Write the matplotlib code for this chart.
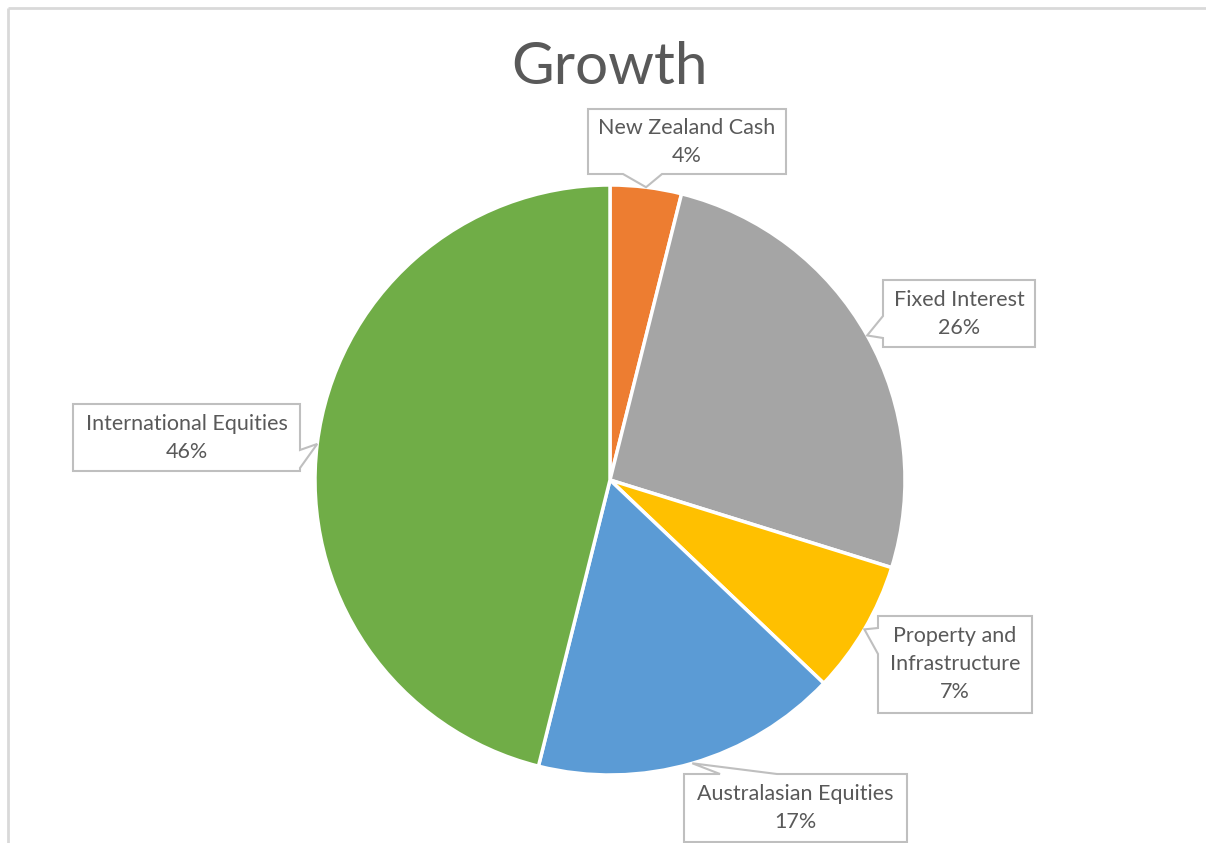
import numpy as np
import matplotlib.pyplot as plt
from matplotlib.patches import Polygon

# Slice data
labels = ['New Zealand Cash', 'Fixed Interest', 'Property and\nInfrastructure',
          'Australasian Equities', 'International Equities']
shares = [3.9, 25.9, 7.3, 16.8, 46.1]
shown_pct = [4, 26, 7, 17, 46]
colors = ['#ED7D31', '#A5A5A5', '#FFC000', '#5B9BD5', '#70AD47']

W, H = 1206, 843
fig = plt.figure(figsize=(W / 100, H / 100), dpi=100)
ax = fig.add_axes([0, 0, 1, 1])

plt.rcParams['font.family'] = ['Lato', 'DejaVu Sans']

cx, cy, r = 610, H - 480, 295
ax.pie(shares, colors=colors, startangle=90, counterclock=False,
       center=(cx, cy), radius=r, frame=True,
       wedgeprops=dict(edgecolor='white', linewidth=2.5))
ax.set_xlim(0, W)
ax.set_ylim(0, H)
ax.set_aspect('equal')
ax.axis('off')

# chart border (top and left edges visible)
ax.plot([8, W], [H - 8, H - 8], color='#D9D9D9', lw=2, solid_capstyle='butt')
ax.plot([8, 8], [H - 8, 0], color='#D9D9D9', lw=2, solid_capstyle='butt')

ax.text(cx, H - 68, 'Growth', ha='center', va='center', fontsize=42, color='#595959')

# callout boxes: (left, top, right, bottom) in pixels, side of pointer, pointer base
boxes = [
    ((588, 109, 786, 174), 'bottom', (623, 662)),
    ((883, 280, 1035, 347), 'left', (316, 338)),
    ((878, 616, 1032, 713), 'left', (628, 654)),
    ((684, 774, 907, 842), 'top', (720, 777)),
    ((73, 404, 300, 471), 'right', (450, 468)),
]

cum = np.cumsum([0] + shares)
for i, (box, side, base) in enumerate(boxes):
    mid = (cum[i] + cum[i + 1]) / 2 / 100 * 2 * np.pi
    tx = cx + r * np.sin(mid)
    ty = cy + r * np.cos(mid)
    l, t, rr, b = box
    t, b = H - t, H - b
    if side == 'bottom':
        pts = [(l, t), (rr, t), (rr, b), (base[1], b), (tx, ty), (base[0], b), (l, b)]
    elif side == 'top':
        pts = [(l, t), (base[0], t), (tx, ty), (base[1], t), (rr, t), (rr, b), (l, b)]
    elif side == 'left':
        pts = [(l, t), (rr, t), (rr, b), (l, b), (l, H - base[1]), (tx, ty), (l, H - base[0])]
    else:
        pts = [(l, t), (rr, t), (rr, H - base[0]), (tx, ty), (rr, H - base[1]), (rr, b), (l, b)]
    ax.add_patch(Polygon(pts, closed=True, facecolor='white', edgecolor='#BFBFBF',
                         linewidth=1.5, zorder=5))
    ax.text((l + rr) / 2, (t + b) / 2, f'{labels[i]}\n{shown_pct[i]}%', ha='center',
            va='center', fontsize=15.5, color='#595959', linespacing=1.5, zorder=6)

fig.savefig('out.png', dpi=100, facecolor='white')
